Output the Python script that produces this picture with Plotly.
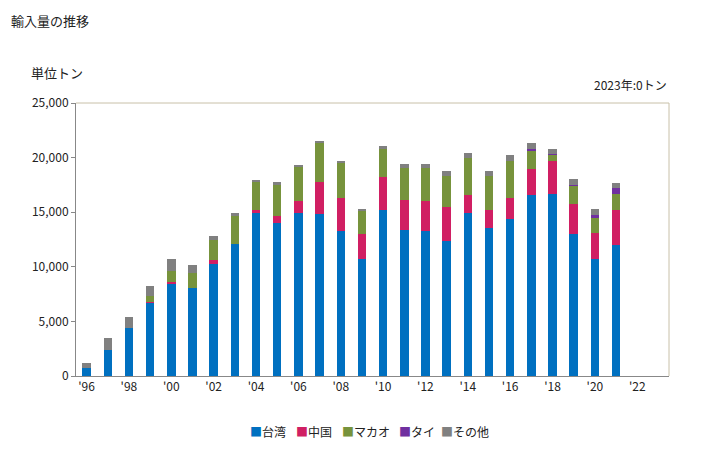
import plotly.graph_objects as go

# Years shown on the axis (1996-2023); 2022 and 2023 have no imports
years = list(range(1996, 2024))

# Import volume by origin, tonnes
taiwan = [760, 2410, 4420, 6710, 8490, 8090, 10280, 12120, 14930, 14010,
          14930, 14870, 13280, 10710, 15230, 13400, 13280, 12360, 14930, 13580,
          14380, 16580, 16700, 13030, 10710, 12000, 0, 0]
china = [0, 0, 0, 90, 90, 0, 370, 0, 300, 670,
         1100, 2920, 3050, 2320, 2990, 2750, 2750, 3120, 1650, 1650,
         1950, 2380, 2990, 2750, 2380, 3230, 0, 0]
macau = [0, 0, 0, 550, 1040, 1370, 1830, 2560, 2560, 2810,
         3110, 3550, 3180, 2080, 2570, 2930, 3050, 2860, 3410, 3110,
         3360, 1710, 550, 1650, 1410, 1470, 0, 0]
thai = [0, 0, 0, 0, 0, 0, 0, 0, 0, 0,
        0, 0, 0, 0, 0, 0, 0, 0, 0, 0,
        0, 120, 120, 90, 240, 540, 0, 0]
others = [460, 1070, 980, 890, 1090, 730, 370, 270, 190, 300,
          180, 120, 120, 120, 300, 360, 360, 430, 430, 430,
          550, 550, 430, 520, 580, 430, 0, 0]

series = [
    ('台湾', taiwan, '#0070C0'),
    ('中国', china, '#D01F63'),
    ('マカオ', macau, '#77933C'),
    ('タイ', thai, '#7030A0'),
    ('その他', others, '#808080'),
]

tick_years = list(range(1996, 2024, 2))
tick_text = ["'" + str(y)[2:] for y in tick_years]

font_family = 'Noto Sans CJK JP'

fig = go.Figure()
for name, values, color in series:
    fig.add_trace(go.Bar(
        x=years, y=values, name=name,
        marker=dict(color=color, line=dict(width=0)),
        hoverinfo='x+y+name', showlegend=False
    ))

# compact legend drawn as annotations (small square + label, like the original)
legend_x = [0.29, 0.368, 0.446, 0.542, 0.612]
legend_notes = []
for (name, _, color), lx in zip(series, legend_x):
    legend_notes.append(dict(
        text=f'<span style="color:{color}">■</span>{name}',
        xref='paper', yref='paper', x=lx, y=-0.205,
        xanchor='left', yanchor='middle', showarrow=False,
        font=dict(size=12, color='#222222')
    ))

# the page body adds an 8px offset, margins are set to compensate
fig.update_layout(
    barmode='stack',
    bargap=0.6,
    width=728, height=450,
    paper_bgcolor='white', plot_bgcolor='white',
    font=dict(family=font_family, size=12, color='#222222'),
    margin=dict(l=68, r=67, t=95, b=82, autoexpand=False),
    xaxis=dict(
        range=[1995.5, 2023.5], automargin=False,
        tickmode='array', tickvals=tick_years, ticktext=tick_text,
        showgrid=False, showline=True, linecolor='#888888', linewidth=1,
        ticks='', mirror=False, zeroline=False,
    ),
    yaxis=dict(
        range=[0, 25000], tickvals=[0, 5000, 10000, 15000, 20000, 25000],
        automargin=False,
        tickformat=',d', showgrid=False, showline=True, linecolor='#888888',
        linewidth=1, ticks='outside', ticklen=4, tickcolor='#888888',
        zeroline=False,
    ),
    shapes=[
        dict(type='line', xref='paper', yref='paper', x0=0, x1=1, y0=1, y1=1,
             line=dict(color='#C8C0A8', width=1)),
        dict(type='line', xref='paper', yref='paper', x0=1, x1=1, y0=0, y1=1,
             line=dict(color='#C8C0A8', width=1)),
    ],
    annotations=[
        dict(text='輸入量の推移', xref='paper', yref='paper', x=-0.113, y=1.345,
             xanchor='left', yanchor='top', showarrow=False, font=dict(size=13)),
        dict(text='単位トン', xref='paper', yref='paper', x=-0.08, y=1.112,
             xanchor='left', yanchor='middle', showarrow=False, font=dict(size=13)),
        dict(text='2023年:0トン', xref='paper', yref='paper', x=1.0, y=1.066,
             xanchor='right', yanchor='middle', showarrow=False, font=dict(size=12)),
    ] + legend_notes,
)

fig.write_html('out.html')
